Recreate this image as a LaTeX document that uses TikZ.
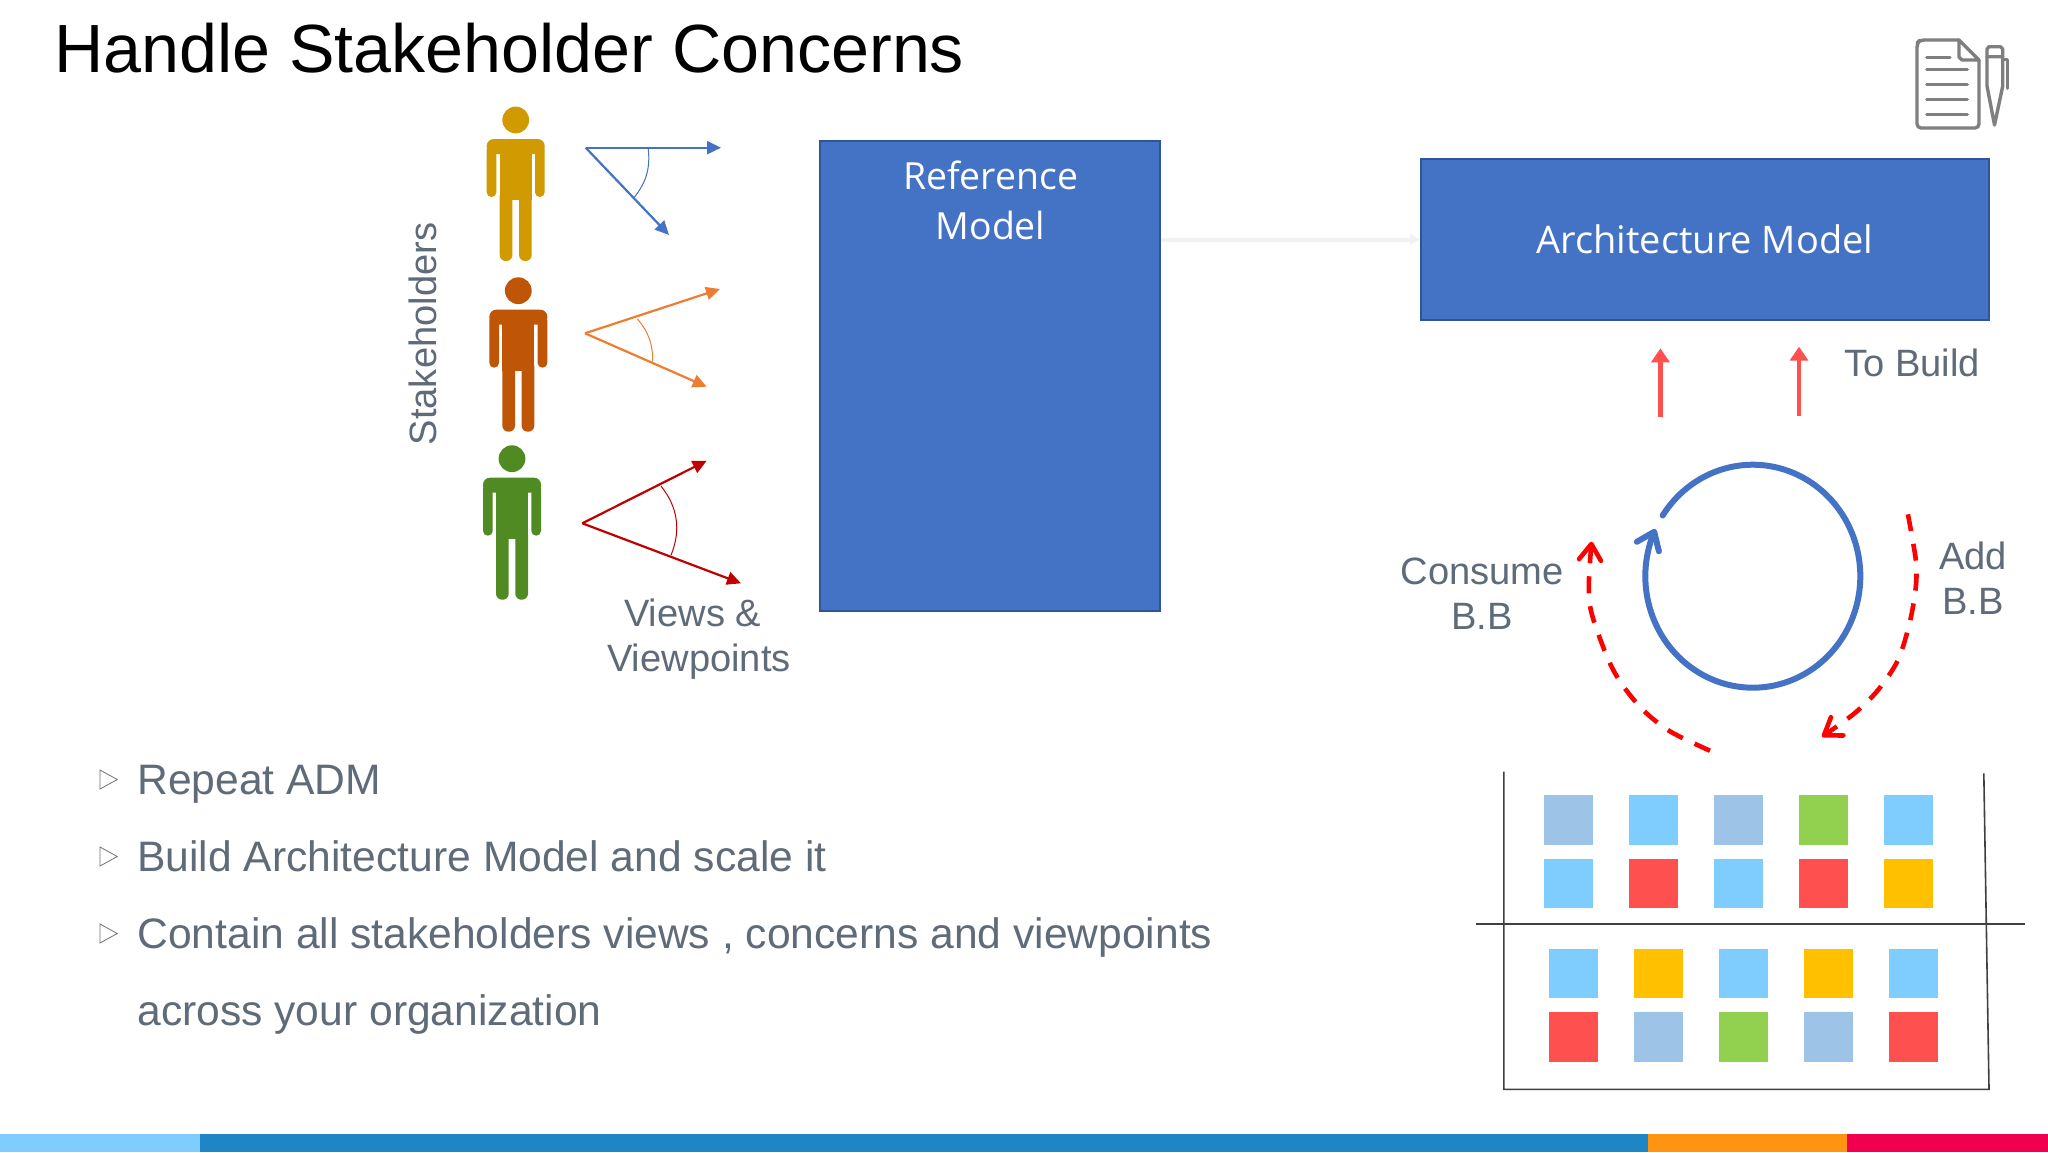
\documentclass[tikz,border=0pt]{standalone}
\usepackage{fontspec}
\setmainfont{Liberation Sans}
\newfontfamily\boxfont{Open Sans}
\usetikzlibrary{arrows.meta}
\definecolor{txt}{HTML}{5F6B78}
\definecolor{mblue}{HTML}{4472C4}
\definecolor{mborder}{HTML}{2F5597}
\definecolor{morange}{HTML}{ED7D31}
\definecolor{mred}{HTML}{C00000}
\definecolor{upred}{HTML}{FF5050}
\definecolor{sqA}{HTML}{9DC3E6}
\definecolor{sqB}{HTML}{7FCCFF}
\definecolor{sqG}{HTML}{92D050}
\definecolor{sqR}{HTML}{FF5050}
\definecolor{sqY}{HTML}{FFC000}
\definecolor{iconc}{HTML}{7F7F7F}
\definecolor{pyellow}{HTML}{D09A00}
\definecolor{porange}{HTML}{BF5507}
\definecolor{pgreen}{HTML}{4F8A22}
\definecolor{barblue}{HTML}{1F86C6}
\definecolor{barorange}{HTML}{FF9412}
\definecolor{barpink}{HTML}{F1004F}
\tikzset{
  body/.style={font=\fontsize{19.05}{22.5}\selectfont,text=txt,inner sep=0pt},
  bullettext/.style={font=\fontsize{21.3}{25}\selectfont,text=txt,inner sep=0pt},
  title/.style={font=\fontsize{34.1}{40}\selectfont,text=black,inner sep=0pt},
  boxlabel/.style={font=\boxfont\fontsize{18.7}{25}\selectfont,text=white,inner sep=0pt,align=center},
  bigbox/.style={draw=mborder,line width=1pt,fill=mblue,inner sep=0pt,rectangle},
  view/.style={line width=1.1pt,-{Triangle[length=7pt,width=6.5pt]}},
  viewarc/.style={line width=.5pt},
  sq/.style={rectangle,minimum width=24.6pt,minimum height=24.7pt,inner sep=0pt},
  uparrow/.style={draw=upred,line width=2.4pt,-{Triangle[length=7pt,width=9pt]}},
  dashred/.style={draw=red,line width=2.3pt,dash pattern=on 8.5pt off 6.5pt},
  barb/.style={-{Straight Barb[length=8pt,width=11pt,round,line width=2.3pt]}},
  bucket/.style={draw=black!75,line width=.8pt},
  bullet/.style={draw=black!55,line width=.4pt,fill=white},
  iconline/.style={draw=iconc,line width=1.7pt,line cap=round,line join=round},
}
\newcommand{\personfig}[3]{%
  \begin{scope}[shift={(#1,#2)},fill=#3]
    \fill (0,0) circle[radius=6.7pt];
    \fill[rounded corners=3.5pt] (-29,19) rectangle (29,34);
    \fill[rounded corners=2.4pt] (-29,25) rectangle (-19.3,77);
    \fill[rounded corners=2.4pt] (19.3,25) rectangle (29,77);
    \fill (-16,19) rectangle (16,80);
    \fill[rounded corners=3pt] (-16,70) rectangle (-3.3,141);
    \fill[rounded corners=3pt] (3.3,70) rectangle (16,141);
  \end{scope}}
\begin{document}
\begin{tikzpicture}[x=0.5pt,y=-0.5pt]
\useasboundingbox (0,0) rectangle (2048,1152);
\fill[white] (0,0) rectangle (2048,1152);

\node[title,anchor=base west] (title) at (54,72) {Handle Stakeholder Concerns};

% icon
\draw[iconline,rounded corners=2pt] (1959,40) -- (1920,40) -- (1917,43) -- (1917,128) -- (1979,128) -- (1979,60);
\draw[iconline] (1959,40) -- (1979,60) -- (1962,60) -- (1959,57) -- cycle;
\foreach \yy/\xe in {57.3/1950,69.3/1967.3,84.3/1967.3,99.7/1967.3,114.7/1967.3}
  \draw[iconline] (1926.7,\yy) -- (\xe,\yy);
\draw[iconline] (1987,56.7) -- (1987,49) -- (1989,46.7) -- (2000.5,46.7) -- (2002.7,49) -- (2002.7,56.7) -- cycle;
\draw[iconline] (1987,56.7) -- (1987,86) -- (1994.5,125) -- (2002.7,86) -- (2002.7,56.7);
\draw[iconline] (2002.7,59.3) -- (2007.7,59.3) -- (2007.7,88.3);

% stakeholders
\personfig{515.7}{120}{pyellow}
\personfig{518.3}{290.7}{porange}
\personfig{512}{458.7}{pgreen}

\node[body,rotate=90,anchor=base] (stakeholders) at (436.7,334) {Stakeholders};

% viewpoints
\coordinate (a1) at (585.7,147.7);
\coordinate (a1u) at (721,147.7);
\coordinate (a1d) at (669,235);
\coordinate (a2) at (585,333.3);
\coordinate (a2u) at (720,289);
\coordinate (a2d) at (706.7,386.7);
\coordinate (a3) at (582.3,523.3);
\coordinate (a3u) at (706.7,460.7);
\coordinate (a3d) at (741,583.3);
\draw[view,mblue] (a1) -- (a1u);
\draw[view,mblue] (a1) -- (a1d);
\draw[viewarc,mblue] (648.3,149) to[bend left=22] (634,197.7);
\draw[view,morange] (a2) -- (a2u);
\draw[view,morange] (a2) -- (a2d);
\draw[viewarc,morange] (637.3,318.7) to[bend left=20] (652.7,361.7);
\draw[view,mred] (a3) -- (a3u);
\draw[view,mred] (a3) -- (a3d);
\draw[viewarc,mred] (661,486) to[bend left=30] (671,555.3);

\node[body,align=left,anchor=center] (views) at (699,639.5) {\hspace*{8.5pt}Views \&\\Viewpoints};

% main boxes
\node[bigbox,minimum width=170pt,minimum height=235pt] (ref) at (990,376) {};
\node[boxlabel] (reflabel) at (990.5,200) {Reference\\Model};
\node[bigbox,minimum width=284pt,minimum height=80.5pt,font=\boxfont\fontsize{19}{25}\selectfont,text=white] (arch) at (1705,239.5) {Architecture Model};
\draw[draw=black!5,line width=2pt,-{Triangle[length=5pt,width=5pt]}] (ref.east |- arch.west) -- (arch.west);

% build arrows
\coordinate (u1s) at (1660.4,416.7);
\coordinate (u1e) at (1660.4,348.3);
\coordinate (u2s) at (1799,415.7);
\coordinate (u2e) at (1799,346.7);
\draw[uparrow] (u1s) -- (u1e);
\draw[uparrow] (u2s) -- (u2e);
\node[body,anchor=base] (tobuild) at (1912,376) {To Build};

% cycle
\draw[mblue,line width=3pt,line cap=round,-{Straight Barb[length=8pt,width=12pt,round,line width=3pt]}]
  plot[domain=147:-205,samples=120,smooth] ({1752.8+107.5*cos(\x)},{576.2-111.5*sin(\x)});

\draw[dashred,barb] plot[smooth] coordinates {(1710,750.7) (1670.6,731.7) (1643,710) (1621,683) (1607,656.7) (1591.5,613) (1588.8,585) (1591.5,541.7)};
\draw[dashred,barb] plot[smooth] coordinates {(1907.9,514.3) (1915.8,560) (1915.8,586.7) (1909.9,621.7) (1898,660) (1878,690) (1854.5,713.3) (1822,736.7)};

\node[body,align=center,anchor=center] (consume) at (1482,593.5) {Consume\\B.B};
\node[body,align=center,anchor=center] (add) at (1973,578) {Add\\B.B};

% squares
\foreach \yy/\row in {820/{1568.5/sqA,1653.6/sqB,1738.5/sqA,1823.7/sqG,1908.6/sqB},
                      883.3/{1568.5/sqB,1653.6/sqR,1738.5/sqB,1823.7/sqR,1908.6/sqY},
                      973.6/{1573.5/sqB,1658.7/sqY,1743.4/sqB,1828.8/sqY,1913.5/sqB},
                      1037/{1573.5/sqR,1658.7/sqA,1743.4/sqG,1828.8/sqA,1913.5/sqR}}
  \foreach \xx/\cc in \row
    \node[sq,fill=\cc] at (\xx,\yy) {};

% bucket
\draw[bucket] (1503.9,771.7) -- (1503.9,1089.3) -- (1989,1089.3) -- (1983.8,773.3);
\draw[bucket] (1475.7,924) -- (2025,924);

% bullets
\foreach \yy in {779.5,856.5,933.5}
  \draw[bullet] (100,\yy-9.5) -- (117.3,\yy) -- (100,\yy+9.5) -- cycle;
\node[bullettext,anchor=base west] (b1) at (137,794.5) {Repeat ADM};
\node[bullettext,anchor=base west] (b2) at (137,871.5) {Build Architecture Model and scale it};
\node[bullettext,anchor=base west] (b3) at (137,948.5) {Contain all stakeholders views , concerns and viewpoints};
\node[bullettext,anchor=base west] (b4) at (137,1025.5) {across your organization};

% bottom bar
\fill[sqB] (0,1134) rectangle (200,1152);
\fill[barblue] (200,1134) rectangle (1647.5,1152);
\fill[barorange] (1647.5,1134) rectangle (1847.3,1152);
\fill[barpink] (1847.3,1134) rectangle (2048,1152);
\end{tikzpicture}
\end{document}
